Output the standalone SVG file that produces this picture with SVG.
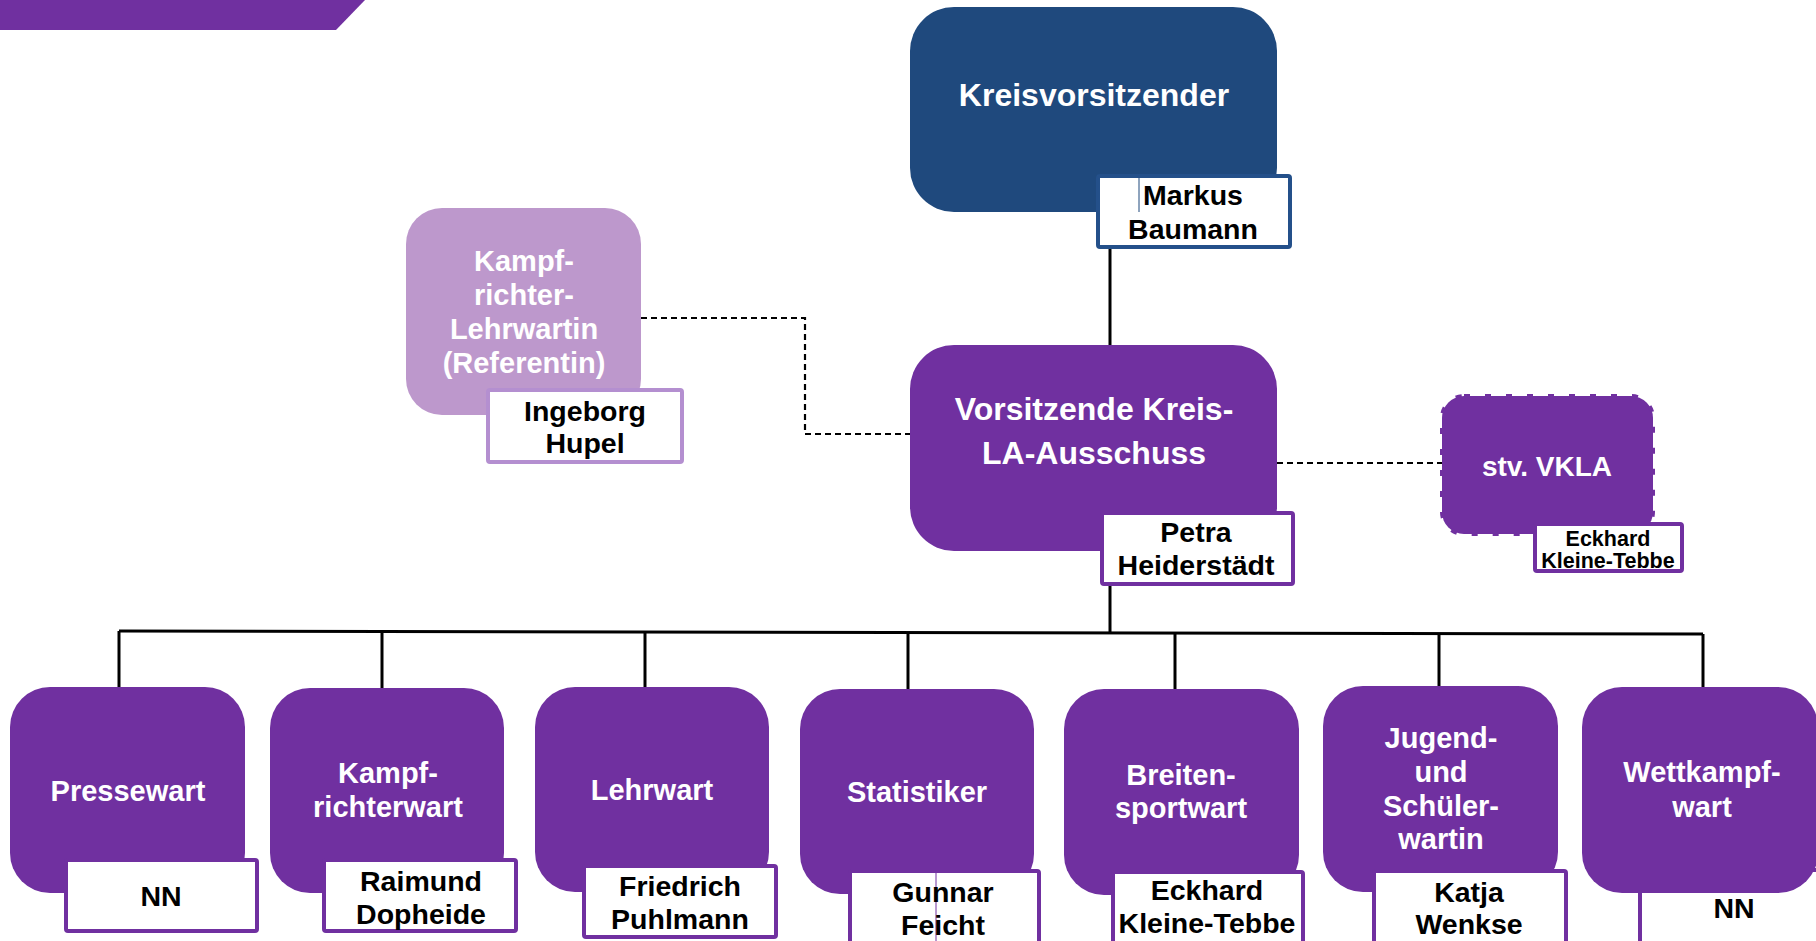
<svg xmlns="http://www.w3.org/2000/svg" width="1816" height="941" viewBox="0 0 1816 941">
<style>
text{font-family:"Liberation Sans",Arial,sans-serif;font-weight:bold;text-anchor:middle}
.w{fill:#ffffff;font-size:29px}
.big{font-size:32px}
.n{fill:#000000;font-size:28.5px}
.sm{font-size:21.5px}
.pb{fill:#7030a0}
.nb{fill:#ffffff;stroke:#7030a0;stroke-width:4}
.solid{fill:none;stroke:#000000;stroke-width:3}
.dash{fill:none;stroke:#000000;stroke-width:2.2;stroke-dasharray:6 4}
</style>
<rect x="0" y="0" width="1816" height="941" fill="#ffffff"/>
<polygon points="0,0 365,0 336,30 0,30" fill="#7030a0"/>
<g id="connectors">
<path class="solid" d="M1110 249 V345"/>
<path class="solid" d="M1110 586 V633"/>
<path class="solid" d="M119 631 L1703 634"/>
<path class="solid" d="M119 631 V687"/>
<path class="solid" d="M382 631.5 V688"/>
<path class="solid" d="M645 632 V687"/>
<path class="solid" d="M908 632.5 V689"/>
<path class="solid" d="M1175 633 V689"/>
<path class="solid" d="M1439 633.5 V686"/>
<path class="solid" d="M1703 634 V687"/>
<path class="dash" d="M641 318 H805 V434 H910"/>
<path class="dash" d="M1277 463 H1442"/>
</g>
<g id="kreisvorsitzender">
<rect x="910" y="7" width="367" height="205" rx="44" fill="#1f497d"/>
<text class="w big" x="1094" y="106">Kreisvorsitzender</text>
<rect x="1098" y="176" width="192" height="71" rx="2" fill="#ffffff" stroke="#24508a" stroke-width="4"/>
<line x1="1139" y1="178" x2="1139" y2="212" stroke="#1f497d" stroke-width="1"/>
<text class="n" x="1193" y="205">Markus</text>
<text class="n" x="1193" y="239">Baumann</text>
</g>
<g id="kampfrichter-lehrwartin">
<rect x="406" y="208" width="235" height="207" rx="36" fill="#bd98cc"/>
<text class="w" x="524" y="271">Kampf-</text>
<text class="w" x="524" y="305">richter-</text>
<text class="w" x="524" y="339">Lehrwartin</text>
<text class="w" x="524" y="373">(Referentin)</text>
<rect x="488" y="390" width="194" height="72" rx="2" fill="#ffffff" stroke="#b48fd0" stroke-width="4"/>
<text class="n" x="585" y="421">Ingeborg</text>
<text class="n" x="585" y="453">Hupel</text>
</g>
<g id="vorsitzende">
<rect class="pb" x="910" y="345" width="367" height="206" rx="44"/>
<text class="w big" x="1094" y="420">Vorsitzende Kreis-</text>
<text class="w big" x="1094" y="464">LA-Ausschuss</text>
<rect class="nb" x="1102" y="513" width="191" height="71" rx="2"/>
<text class="n" x="1196" y="542">Petra</text>
<text class="n" x="1196" y="575">Heiderstädt</text>
</g>
<g id="stv-vkla">
<rect x="1442" y="396" width="211" height="138" rx="22" fill="#7030a0" stroke="#7030a0" stroke-width="4" stroke-dasharray="6 15"/>
<text class="w" x="1547" y="476" style="font-size:28px">stv. VKLA</text>
<rect class="nb" x="1535" y="524" width="147" height="47" rx="2"/>
<text class="n sm" x="1608" y="546">Eckhard</text>
<text class="n sm" x="1608" y="568">Kleine-Tebbe</text>
</g>
<g id="pressewart">
<rect class="pb" x="10" y="687" width="235" height="206" rx="40"/>
<text class="w" x="128" y="801">Pressewart</text>
<rect class="nb" x="66" y="860" width="191" height="71" rx="2"/>
<text class="n" x="161" y="906">NN</text>
</g>
<g id="kampfrichterwart">
<rect class="pb" x="270" y="688" width="234" height="205" rx="40"/>
<text class="w" x="388" y="783">Kampf-</text>
<text class="w" x="388" y="817">richterwart</text>
<rect class="nb" x="324" y="860" width="192" height="71" rx="2"/>
<text class="n" x="421" y="891">Raimund</text>
<text class="n" x="421" y="924">Dopheide</text>
</g>
<g id="lehrwart">
<rect class="pb" x="535" y="687" width="234" height="205" rx="40"/>
<text class="w" x="652" y="800">Lehrwart</text>
<rect class="nb" x="584" y="866" width="192" height="71" rx="2"/>
<text class="n" x="680" y="896">Friedrich</text>
<text class="n" x="680" y="929">Puhlmann</text>
</g>
<g id="statistiker">
<rect class="pb" x="800" y="689" width="234" height="205" rx="40"/>
<text class="w" x="917" y="802">Statistiker</text>
<rect class="nb" x="850" y="871" width="189" height="80" rx="2"/>
<line x1="936" y1="873" x2="936" y2="941" stroke="#7030a0" stroke-width="1"/>
<text class="n" x="943" y="902">Gunnar</text>
<text class="n" x="943" y="935">Feicht</text>
</g>
<g id="breitensportwart">
<rect class="pb" x="1064" y="689" width="235" height="206" rx="40"/>
<text class="w" x="1181" y="785">Breiten-</text>
<text class="w" x="1181" y="818">sportwart</text>
<rect class="nb" x="1113" y="872" width="190" height="80" rx="2"/>
<text class="n" x="1207" y="900">Eckhard</text>
<text class="n" x="1207" y="933">Kleine-Tebbe</text>
</g>
<g id="jugendwartin">
<rect class="pb" x="1323" y="686" width="235" height="206" rx="40"/>
<text class="w" x="1441" y="748">Jugend-</text>
<text class="w" x="1441" y="782">und</text>
<text class="w" x="1441" y="816">Schüler-</text>
<text class="w" x="1441" y="849">wartin</text>
<rect class="nb" x="1374" y="871" width="192" height="80" rx="2"/>
<text class="n" x="1469" y="902">Katja</text>
<text class="n" x="1469" y="934">Wenkse</text>
</g>
<g id="wettkampfwart">
<rect class="nb" x="1640" y="870" width="200" height="90" rx="2"/>
<rect class="pb" x="1582" y="687" width="236" height="206" rx="40"/>
<text class="w" x="1702" y="782">Wettkampf-</text>
<text class="w" x="1702" y="817">wart</text>
<text class="n" x="1734" y="918">NN</text>
</g>
</svg>
